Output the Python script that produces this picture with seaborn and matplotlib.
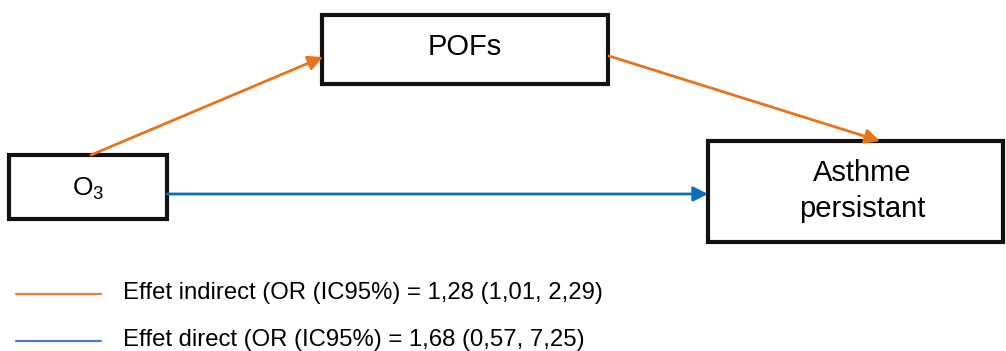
import matplotlib.pyplot as plt
import pandas as pd
import seaborn as sns
from matplotlib.patches import Rectangle

sns.set_theme(style="white")
plt.rcParams['font.family'] = ['Liberation Sans', 'DejaVu Sans']
plt.rcParams['mathtext.fontset'] = 'custom'
plt.rcParams['mathtext.rm'] = 'Liberation Sans'
plt.rcParams['mathtext.default'] = 'regular'
plt.rcParams['text.color'] = 'black'

# node labels
nodes = ['O$_3$', 'POFs', 'Asthme\npersistant']
# effects (legend)
effect_names = ['Effet indirect', 'Effet direct']
effect_or = ['1,28', '1,68']
effect_ci = [('1,01', '2,29'), ('0,57', '7,25')]

# layout in pixels (x0, y0, x1, y1)
boxes = {
    'O$_3$': (9, 155, 167, 219),
    'POFs': (322, 15, 608, 84),
    'Asthme\npersistant': (708, 141, 1003, 242),
}
orange = '#E8731A'
blue = '#0A6EBD'

fig = plt.figure(figsize=(10.06, 3.51), dpi=100)
ax = fig.add_axes([0, 0, 1, 1])

for name, (x0, y0, x1, y1) in boxes.items():
    ax.add_patch(Rectangle((x0, y0), x1 - x0, y1 - y0, fill=False,
                           edgecolor='#111111', linewidth=3.0))

ax.text(88, 189, nodes[0], ha='center', va='center', fontsize=19)
ax.text(465, 47, nodes[1], ha='center', va='center', fontsize=21)
ax.text(862, 191, nodes[2], ha='center', va='center', fontsize=21,
        linespacing=1.32)

arrow = dict(arrowstyle='-|>', mutation_scale=22, shrinkA=0, shrinkB=0)
ax.annotate('', xy=(323, 57), xytext=(91, 155),
            arrowprops=dict(color=orange, lw=2, **arrow))
ax.annotate('', xy=(880, 141), xytext=(609, 56),
            arrowprops=dict(color=orange, lw=2, **arrow))
ax.annotate('', xy=(708, 194), xytext=(167, 194),
            arrowprops=dict(color=blue, lw=2, **arrow))

# legend
legend_colors = ['#ED7D31', '#4A7EC4']
legend_y = [294, 341]
for i in range(2):
    seg = pd.DataFrame({'x': [16, 101], 'y': [legend_y[i], legend_y[i]]})
    sns.lineplot(data=seg, x='x', y='y', ax=ax, color=legend_colors[i], lw=1.6)
    lab = '%s (OR (IC95%%) = %s (%s, %s)' % (effect_names[i], effect_or[i],
                                              effect_ci[i][0], effect_ci[i][1])
    ax.text(123, legend_y[i] - 1, lab, ha='left', va='center', fontsize=17.2)

ax.set_xlim(0, 1006)
ax.set_ylim(351, 0)
ax.axis('off')
fig.savefig('out.png', dpi=100)
